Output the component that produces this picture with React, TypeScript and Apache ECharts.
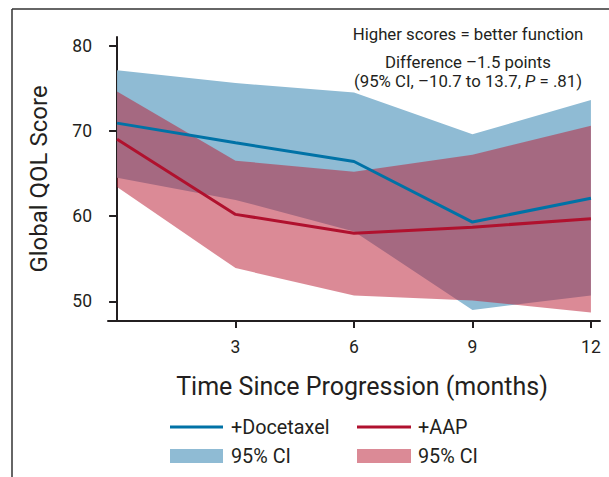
import React, { useEffect, useRef } from "react";
import * as echarts from "echarts";

const months = [0, 3, 6, 9, 12];
const docetaxel = [70.9, 68.6, 66.4, 59.3, 62.1];
const aap = [69.0, 60.2, 58.0, 58.7, 59.7];
const docLower = [64.5, 61.9, 58.2, 49.0, 50.7];
const docUpper = [77.1, 75.6, 74.5, 69.6, 73.6];
const aapLower = [63.4, 53.9, 50.7, 50.1, 48.7];
const aapUpper = [74.6, 66.5, 65.2, 67.2, 70.6];
const xTicks = [3, 6, 9, 12];
const yTicks = [50, 60, 70, 80];

const FONT = "Roboto";
const TXT = "#231F20";
const BLUE_LINE = "#0072A6";
const RED_LINE = "#B0112E";
const BLUE_BAND = "#8FBBD4";
const PINK_BAND = "#DB8A96";
const PINK_OVER = "rgba(186,30,53,0.52)";

function band(name: string, lower: number[], upper: number[], fill: string, z: number) {
  return {
    type: "custom",
    name,
    z,
    silent: true,
    data: months.map((m, i) => [m, lower[i], upper[i]]),
    encode: { x: 0, y: [1, 2] },
    renderItem: (params: any, api: any) => {
      if (params.dataIndex !== 0) return null;
      const top = months.map((m, i) => api.coord([m, upper[i]]));
      const bottom = months.map((m, i) => api.coord([m, lower[i]])).reverse();
      return {
        type: "polygon",
        shape: { points: [...top, ...bottom] },
        style: { fill },
      };
    },
  };
}

export default function App() {
  const ref = useRef<HTMLDivElement>(null);
  useEffect(() => {
    if (!ref.current) return;
    const chart = echarts.init(ref.current, undefined, { renderer: "svg" });
    chart.setOption({
      animation: false,
      backgroundColor: "#ffffff",
      textStyle: { fontFamily: FONT, color: TXT },
      grid: { left: 108, top: 37, right: 9, bottom: 156, containLabel: false },
      xAxis: {
        type: "value",
        min: -0.23,
        max: 12.23,
        name: "Time Since Progression (months)",
        nameLocation: "middle",
        nameGap: 53,
        nameTextStyle: { fontSize: 25, color: TXT, fontFamily: FONT, padding: [0, 0, 0, 16] },
        axisLine: { show: true, lineStyle: { color: TXT, width: 2 } },
        axisTick: { show: true, length: 7, lineStyle: { color: TXT, width: 2 }, customValues: xTicks },
        axisLabel: { customValues: xTicks, fontSize: 17.5, color: TXT, margin: 17, fontFamily: FONT },
        splitLine: { show: false },
      },
      yAxis: {
        type: "value",
        min: 47.7,
        max: 81,
        name: "Global QOL Score",
        nameLocation: "middle",
        nameGap: 57,
        nameTextStyle: { fontSize: 24, color: TXT, fontFamily: FONT },
        axisLine: { show: true, lineStyle: { color: TXT, width: 2 } },
        axisTick: { show: true, length: 8, lineStyle: { color: TXT, width: 2 }, customValues: yTicks },
        axisLabel: { customValues: yTicks, fontSize: 17.5, color: TXT, margin: 16, fontFamily: FONT },
        splitLine: { show: false },
      },
      series: [
        band("Docetaxel 95% CI", docLower, docUpper, BLUE_BAND, 1),
        band("AAP 95% CI", aapLower, aapUpper, PINK_OVER, 2),
        {
          type: "line",
          name: "+Docetaxel",
          z: 3,
          symbol: "none",
          data: months.map((m, i) => [m, docetaxel[i]]),
          lineStyle: { color: BLUE_LINE, width: 3 },
        },
        {
          type: "line",
          name: "+AAP",
          z: 4,
          symbol: "none",
          data: months.map((m, i) => [m, aap[i]]),
          lineStyle: { color: RED_LINE, width: 3 },
        },
      ],
      graphic: [
        { type: "line", shape: { x1: 12, y1: 9, x2: 609, y2: 9 }, style: { stroke: "#333", lineWidth: 1.5 } },
        { type: "line", shape: { x1: 12, y1: 9, x2: 12, y2: 477 }, style: { stroke: "#333", lineWidth: 1.5 } },
        {
          type: "text", x: 468, y: 34,
          style: { text: "Higher scores = better function", fontSize: 16.8, fontFamily: FONT, fill: TXT, align: "center", verticalAlign: "middle" },
        },
        {
          type: "text", x: 468, y: 62,
          style: { text: "Difference \u20131.5 points", fontSize: 16.8, fontFamily: FONT, fill: TXT, align: "center", verticalAlign: "middle" },
        },
        {
          type: "text", x: 468, y: 81,
          style: {
            text: "(95% CI, \u201310.7 to 13.7, {i|P} = .81)",
            fontSize: 16.8, fontFamily: FONT, fill: TXT, align: "center", verticalAlign: "middle",
            rich: { i: { fontStyle: "italic", fontSize: 16.8, fontFamily: FONT, fill: TXT } },
          },
        },
        { type: "line", shape: { x1: 170, y1: 427, x2: 223, y2: 427 }, style: { stroke: BLUE_LINE, lineWidth: 3 } },
        { type: "text", x: 231, y: 427, style: { text: "+Docetaxel", fontSize: 19.8, fontFamily: FONT, fill: TXT, verticalAlign: "middle" } },
        { type: "line", shape: { x1: 357, y1: 427, x2: 411, y2: 427 }, style: { stroke: RED_LINE, lineWidth: 3 } },
        { type: "text", x: 418, y: 427, style: { text: "+AAP", fontSize: 19.8, fontFamily: FONT, fill: TXT, verticalAlign: "middle" } },
        { type: "rect", shape: { x: 170, y: 449, width: 53, height: 14 }, style: { fill: BLUE_BAND } },
        { type: "text", x: 231, y: 456, style: { text: "95% CI", fontSize: 19.8, fontFamily: FONT, fill: TXT, verticalAlign: "middle" } },
        { type: "rect", shape: { x: 357, y: 449, width: 54, height: 14 }, style: { fill: PINK_BAND } },
        { type: "text", x: 418, y: 456, style: { text: "95% CI", fontSize: 19.8, fontFamily: FONT, fill: TXT, verticalAlign: "middle" } },
      ],
    });
    return () => chart.dispose();
  }, []);
  return (
    <div
      ref={ref}
      style={{ position: "fixed", left: 0, top: 0, width: 609, height: 477, background: "#fff" }}
    />
  );
}
